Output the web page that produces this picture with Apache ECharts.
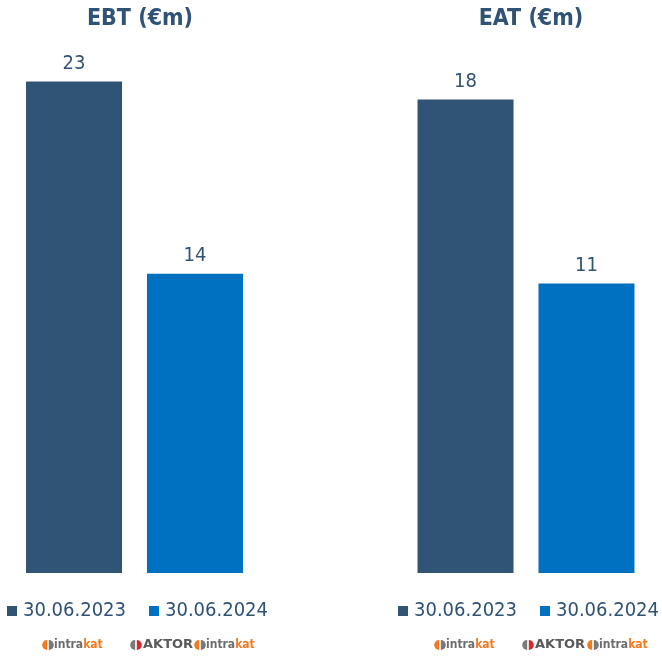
<!DOCTYPE html>
<html>
<head>
<meta charset="utf-8">
<script src="https://cdn.jsdelivr.net/npm/echarts@6/dist/echarts.min.js"></script>
<style>
  html, body { margin: 0; padding: 0; background: #fff; }
  #chart { width: 662px; height: 656px; }
</style>
</head>
<body>
<div id="chart"></div>
<script>
// Panel titles and period names
const panelTitles = ['EBT (€m)', 'EAT (€m)'];
const periods = ['30.06.2023', '30.06.2024'];

// Values per period, one entry per panel (EBT, EAT)
const values2023 = [23, 18];
const values2024 = [14, 11];

const TEXT = '#2F5275';
const DARK = '#305476';
const BLUE = '#0070C0';
const FONT = 'DejaVu Sans Condensed';

const chart = echarts.init(document.getElementById('chart'), null, { renderer: 'canvas' });

const grids = [
  { left: 14, width: 241, top: 60, height: 513 },
  { left: 406, width: 240, top: 60, height: 513 }
];
const yMax = [24, 19.5];

function barLabel() {
  return {
    show: true, position: 'top', distance: 8,
    color: TEXT, fontFamily: FONT, fontSize: 20
  };
}

const series = [];
[0, 1].forEach(function (p) {
  series.push({
    name: periods[0], type: 'bar', xAxisIndex: p, yAxisIndex: p,
    data: [values2023[p]], barWidth: 96, barGap: '26%',
    itemStyle: { color: DARK }, label: barLabel()
  });
  series.push({
    name: periods[1], type: 'bar', xAxisIndex: p, yAxisIndex: p,
    data: [values2024[p]], barWidth: 96, barGap: '26%',
    itemStyle: { color: BLUE }, label: barLabel()
  });
});

function legendAt(left) {
  return {
    data: periods, left: left, top: 601, orient: 'horizontal', padding: 0,
    width: 300,
    icon: 'rect', itemWidth: 10, itemHeight: 10, itemGap: 23,
    selectedMode: false,
    textStyle: { color: TEXT, fontFamily: FONT, fontSize: 20, padding: [0, 0, 0, 1] }
  };
}

// Footer company marks: a two-part round badge followed by the name
const CY = 645;
const LOGO_FONT = 'DejaVu Sans Condensed';
function badge(cx, leftColor, rightColor) {
  return [
    { type: 'sector', shape: { cx: cx - 0.8, cy: CY, r: 5, r0: 0, startAngle: Math.PI / 2, endAngle: Math.PI * 1.5 },
      style: { fill: leftColor } },
    { type: 'sector', shape: { cx: cx + 0.8, cy: CY, r: 5, r0: 0, startAngle: -Math.PI / 2, endAngle: Math.PI / 2 },
      style: { fill: rightColor } }
  ];
}
function logoIntrakat(x) {
  return badge(x + 4, '#F47A20', '#7a7a7a').concat([
    { type: 'text', x: x + 10, y: CY, style: {
        text: '{a|intra}{b|kat}', verticalAlign: 'middle',
        rich: {
          a: { fill: '#6d6d6d', fontFamily: LOGO_FONT, fontWeight: 'bold', fontSize: 12 },
          b: { fill: '#F47A20', fontFamily: LOGO_FONT, fontWeight: 'bold', fontSize: 12 }
        }
      } }
  ]);
}
function logoAktor(x) {
  return badge(x + 5, '#7a7a7a', '#D7282F').concat([
    { type: 'text', x: x + 12, y: CY, style: {
        text: 'AKTOR', fill: '#5a5a5a', verticalAlign: 'middle',
        fontFamily: 'DejaVu Sans', fontWeight: 'bold', fontSize: 13
      } }
  ]);
}

const option = {
  backgroundColor: '#fff',
  animation: false,
  title: [
    { text: panelTitles[0], left: 135, top: 3, textAlign: 'center',
      textStyle: { color: TEXT, fontFamily: FONT, fontWeight: 'bold', fontSize: 23 } },
    { text: panelTitles[1], left: 526, top: 3, textAlign: 'center',
      textStyle: { color: TEXT, fontFamily: FONT, fontWeight: 'bold', fontSize: 23 } }
  ],
  legend: [legendAt(7), legendAt(398)],
  grid: grids,
  xAxis: [0, 1].map(function (p) {
    return {
      type: 'category', gridIndex: p, data: [panelTitles[p]],
      axisLine: { show: false }, axisTick: { show: false }, axisLabel: { show: false }
    };
  }),
  yAxis: [0, 1].map(function (p) {
    return {
      type: 'value', gridIndex: p, min: 0, max: yMax[p],
      show: false, splitLine: { show: false }
    };
  }),
  series: series,
  graphic: [].concat(
    logoIntrakat(44), logoAktor(131), logoIntrakat(196),
    logoIntrakat(436), logoAktor(523), logoIntrakat(589)
  )
};

chart.setOption(option);
</script>
</body>
</html>
